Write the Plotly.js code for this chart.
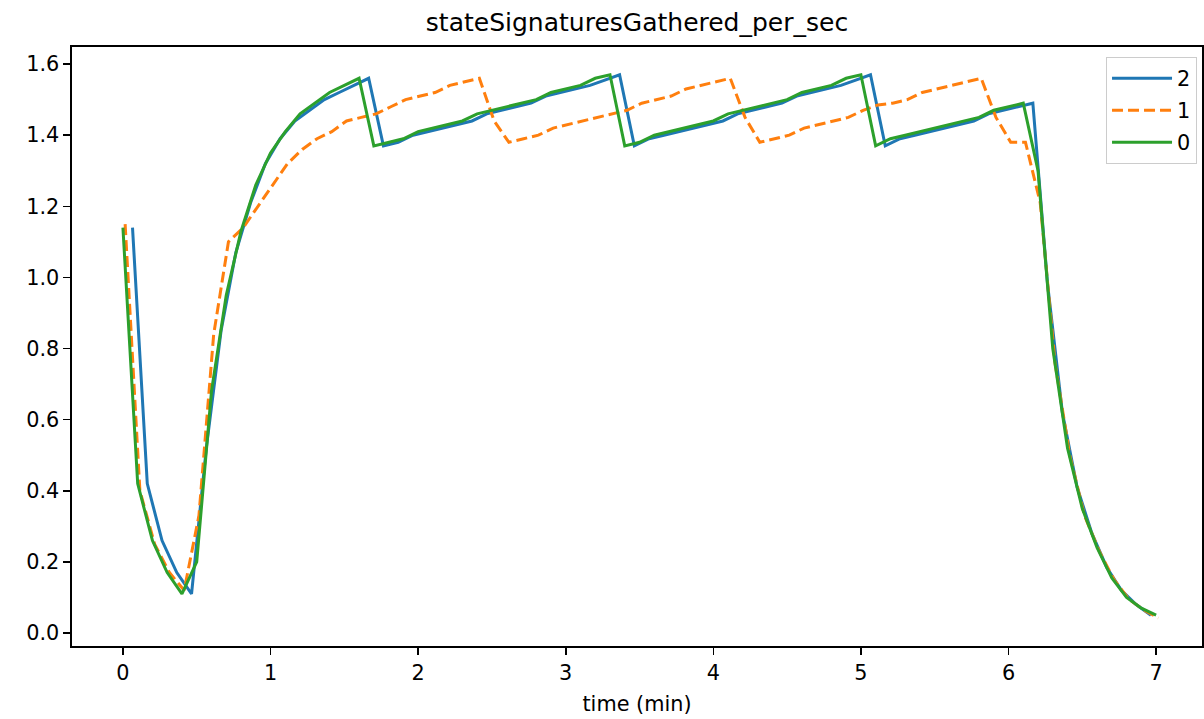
<!DOCTYPE html>
<html>
<head>
<meta charset="utf-8">
<script src="https://cdn.plot.ly/plotly-3.0.1.min.js"></script>
<style>
html,body{margin:0;padding:0;background:#fff;}
#chart{width:1204px;height:719px;}
</style>
</head>
<body>
<div id="chart"></div>
<script>
// Series names (legend order)
const seriesNames = ["2", "1", "0"];

// Sample start times (min) and step for each series
const start2 = 0.065, start1 = 0.015, start0 = 0.0;
const stepMin = 0.1;

// Series "2" (blue)
const values2 = [
  1.14, 0.42, 0.26, 0.17, 0.11, 0.52, 0.85, 1.07, 1.21, 1.32,
  1.39, 1.44, 1.47, 1.50, 1.52, 1.54, 1.56, 1.37, 1.38, 1.40,
  1.41, 1.42, 1.43, 1.44, 1.46, 1.47, 1.48, 1.49, 1.51, 1.52,
  1.53, 1.54, 1.555, 1.57, 1.37, 1.39, 1.40, 1.41, 1.42, 1.43,
  1.44, 1.46, 1.47, 1.48, 1.49, 1.51, 1.52, 1.53, 1.54, 1.555,
  1.57, 1.37, 1.39, 1.40, 1.41, 1.42, 1.43, 1.44, 1.46, 1.47,
  1.48, 1.49, 0.98, 0.62, 0.41, 0.28, 0.185, 0.12, 0.08, 0.05
];

// Series "1" (orange, dashed)
const values1 = [
  1.15, 0.40, 0.25, 0.17, 0.12, 0.33, 0.84, 1.10, 1.14, 1.20,
  1.26, 1.32, 1.36, 1.39, 1.41, 1.44, 1.45, 1.46, 1.48, 1.50,
  1.51, 1.52, 1.54, 1.55, 1.56, 1.44, 1.38, 1.39, 1.40, 1.42,
  1.43, 1.44, 1.45, 1.46, 1.47, 1.49, 1.50, 1.51, 1.53, 1.54,
  1.55, 1.56, 1.45, 1.38, 1.39, 1.40, 1.42, 1.43, 1.44, 1.45,
  1.47, 1.485, 1.49, 1.50, 1.52, 1.53, 1.54, 1.55, 1.56, 1.45,
  1.38, 1.38, 1.21, 0.76, 0.50, 0.33, 0.23, 0.15, 0.095, 0.065,
  0.042
];

// Series "0" (green)
const values0 = [
  1.14, 0.42, 0.26, 0.17, 0.11, 0.20, 0.68, 0.95, 1.13, 1.26,
  1.35, 1.41, 1.46, 1.49, 1.52, 1.54, 1.56, 1.37, 1.38, 1.39,
  1.41, 1.42, 1.43, 1.44, 1.46, 1.47, 1.48, 1.49, 1.50, 1.52,
  1.53, 1.54, 1.56, 1.57, 1.37, 1.38, 1.40, 1.41, 1.42, 1.43,
  1.44, 1.46, 1.47, 1.48, 1.49, 1.50, 1.52, 1.53, 1.54, 1.56,
  1.57, 1.37, 1.39, 1.40, 1.41, 1.42, 1.43, 1.44, 1.45, 1.47,
  1.48, 1.49, 1.30, 0.80, 0.52, 0.35, 0.24, 0.155, 0.10, 0.07,
  0.05
];

// Axis ticks
const xTicks = [0, 1, 2, 3, 4, 5, 6, 7];
const yTicks = [0.0, 0.2, 0.4, 0.6, 0.8, 1.0, 1.2, 1.4, 1.6];

function timesFor(start, n) {
  const t = [];
  for (let i = 0; i < n; i++) t.push(+(start + stepMin * i).toFixed(3));
  return t;
}

const font = "DejaVu Sans, Liberation Sans, sans-serif";
const colors = ["#1f77b4", "#ff7f0e", "#2ca02c"];
const dashes = ["solid", "11px,5px", "solid"];
const starts = [start2, start1, start0];
const vals = [values2, values1, values0];

const traces = seriesNames.map((name, i) => ({
  type: "scatter",
  mode: "lines",
  name: name,
  legendgroup: "g" + name,
  x: timesFor(starts[i], vals[i].length),
  y: vals[i],
  line: {color: colors[i], width: 3, dash: dashes[i]},
  hoverinfo: "x+y+name"
}));

const layout = {
  width: 1204,
  height: 719,
  paper_bgcolor: "#ffffff",
  plot_bgcolor: "#ffffff",
  margin: {l: 72, r: 2, t: 47, b: 73, pad: 0},
  font: {family: font, size: 20.8, color: "#000"},
  title: {
    text: "stateSignaturesGathered_per_sec",
    font: {family: font, size: 25, color: "#000"},
    x: 0.5, xref: "paper", xanchor: "center",
    y: 1 - 22/719, yref: "container", yanchor: "middle"
  },
  showlegend: true,
  legend: {
    x: 0.9956, xanchor: "right",
    y: 0.983, yanchor: "top",
    bgcolor: "rgba(255,255,255,0.8)",
    bordercolor: "#cccccc",
    borderwidth: 1,
    font: {family: font, size: 20.8, color: "#000"},
    traceorder: "grouped",
    tracegroupgap: 2,
    itemwidth: 60
  },
  xaxis: {
    range: [-0.345, 7.311],
    tickvals: xTicks,
    ticktext: xTicks.map(String),
    ticks: "outside", ticklen: 7, tickwidth: 1.6, tickcolor: "#000",
    showline: true, linecolor: "#000", linewidth: 1.6, mirror: true,
    showgrid: false, zeroline: false,
    tickfont: {family: font, size: 20.8, color: "#000"},
    title: {text: "time (min)", font: {family: font, size: 20.8, color: "#000"}, standoff: 13}
  },
  yaxis: {
    range: [-0.0366, 1.648],
    tickvals: yTicks,
    ticktext: yTicks.map(v => v.toFixed(1)),
    ticks: "outside", ticklen: 7, tickwidth: 1.6, tickcolor: "#000",
    showline: true, linecolor: "#000", linewidth: 1.6, mirror: true,
    showgrid: false, zeroline: false,
    tickfont: {family: font, size: 20.8, color: "#000"}
  }
};

Plotly.newPlot("chart", traces, layout, {displayModeBar: false, staticPlot: true});
</script>
</body>
</html>
